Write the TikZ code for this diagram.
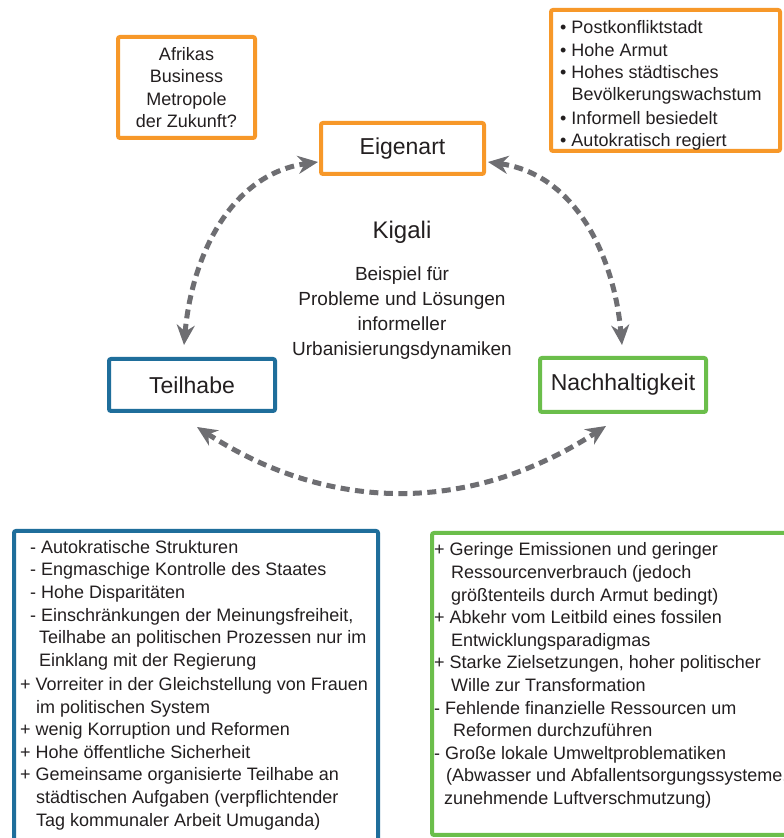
\documentclass[tikz,border=0pt]{standalone}
\usepackage{fontspec}
\setmainfont{Liberation Sans}
\usetikzlibrary{arrows.meta}
\definecolor{kgorange}{RGB}{247,152,41}
\definecolor{kgblue}{RGB}{31,110,155}
\definecolor{kggreen}{RGB}{107,190,75}
\definecolor{kggray}{RGB}{110,110,114}
\definecolor{kgtext}{RGB}{35,31,32}
\newcommand{\bul}{\textbullet\ }
\newcommand{\bulind}{\hphantom{\textbullet\ }}
\tikzset{
  catbox/.style   = {draw, line width=4pt, rounded corners=2pt, fill=white,
                     text=kgtext, font=\fontsize{23}{27}\selectfont, inner sep=0pt},
  notebox/.style  = {draw=kgorange, line width=4pt, rounded corners=2pt, fill=white,
                     text=kgtext, font=\fontsize{18}{22.5}\selectfont, inner sep=0pt},
  listbox/.style  = {draw, line width=4pt, rounded corners=2pt, fill=white,
                     anchor=north west},
  listtext/.style = {align=left, text=kgtext, anchor=west, inner sep=0pt,
                     font=\fontsize{18}{22.6}\selectfont},
  arrow/.style    = {{Stealth[length=20pt,width=18pt]}-{Stealth[length=20pt,width=18pt]},
                     line width=5pt, dash pattern=on 9pt off 5.5pt, color=kggray},
}

\begin{document}
\begin{tikzpicture}[x=1pt, y=1pt]
  \clip (0,0) rectangle (784,838);
  \fill[white] (0,0) rectangle (784,838);

  % Kategorien
  \node[catbox, draw=kgorange, minimum width=163, minimum height=51] (eigen) at (402.5,689.5) {Eigenart};
  \node[catbox, draw=kgblue, minimum width=166, minimum height=52] (teil) at (192,453) {Teilhabe};
  \node[catbox, draw=kggreen, minimum width=166, minimum height=54] (nach) at (623,453) {Nachhaltigkeit};

  % Mitte
  \node[text=kgtext, font=\fontsize{24}{28}\selectfont] (kigali) at (402,606) {Kigali};
  \node[text=kgtext, align=center, font=\fontsize{19}{25}\selectfont] (beispiel) at (402,525)
    {Beispiel für\\ Probleme und Lösungen\\ informeller\\ Urbanisierungsdynamiken};

  % Notizen oben
  \node[notebox, align=center, minimum width=137, minimum height=101] (afrika) at (186.5,750.5)
    {Afrikas\\ Business\\ Metropole\\ der Zukunft?};
  \node[notebox, minimum width=229, minimum height=141] (post) at (665.5,757.5) {};
  \node[listtext, font=\fontsize{18}{22.2}\selectfont] (posttext) at (560,752.5)
    {\bul Postkonfliktstadt\\
     \bul Hohe Armut\\
     \bul Hohes städtisches\\
     \bulind Bevölkerungswachstum\\[1.5pt]
     \bul Informell besiedelt\\
     \bul Autokratisch regiert};

  % Listen unten
  \node[listbox, draw=kgblue, minimum width=364, minimum height=340] (teilbox) at (12,309) {};
  \node[listtext] (teiltext) at (20,153) {%
    \hspace*{10pt}- Autokratische Strukturen\\
    \hspace*{10pt}- Engmaschige Kontrolle des Staates\\
    \hspace*{10pt}- Hohe Disparitäten\\
    \hspace*{10pt}- Einschränkungen der Meinungsfreiheit,\\
    \hspace*{19pt}Teilhabe an politischen Prozessen nur im\\
    \hspace*{19pt}Einklang mit der Regierung\\[1.5pt]
    + Vorreiter in der Gleichstellung von Frauen\\
    \hspace*{16pt}im politischen System\\
    + wenig Korruption und Reformen\\
    + Hohe öffentliche Sicherheit\\
    + Gemeinsame organisierte Teilhabe an\\
    \hspace*{16pt}städtischen Aufgaben (verpflichtender\\
    \hspace*{16pt}Tag kommunaler Arbeit Umuganda)};

  \node[listbox, draw=kggreen, minimum width=370, minimum height=302] (nachbox) at (430,307) {};
  \node[listtext] (nachtext) at (434,162.5) {%
    + Geringe Emissionen und geringer\\
    \hspace*{17pt}Ressourcenverbrauch (jedoch\\
    \hspace*{17pt}größtenteils durch Armut bedingt)\\
    + Abkehr vom Leitbild eines fossilen\\
    \hspace*{17pt}Entwicklungsparadigmas\\
    + Starke Zielsetzungen, hoher politischer\\
    \hspace*{17pt}Wille zur Transformation\\
    - Fehlende finanzielle Ressourcen um\\
    \hspace*{19pt}Reformen durchzuführen\\
    - Große lokale Umweltproblematiken\\
    \hspace*{12pt}(Abwasser und Abfallentsorgungssysteme,\\
    \hspace*{10pt}zunehmende Luftverschmutzung)};

  % Verbindungen
  \draw[arrow] ([xshift=-8pt,yshift=12pt]teil.north) to[out=85, in=188]
    ([xshift=-1pt,yshift=-13.5pt]eigen.west);
  \draw[arrow] ([xshift=2pt,yshift=-13.5pt]eigen.east) to[out=-8, in=95]
    ([xshift=-1pt,yshift=11pt]nach.north);
  \draw[arrow] ([xshift=5pt,yshift=-14pt]teil.south) to[out=-33, in=-147]
    ([xshift=-17pt,yshift=-12pt]nach.south);
\end{tikzpicture}
\end{document}
